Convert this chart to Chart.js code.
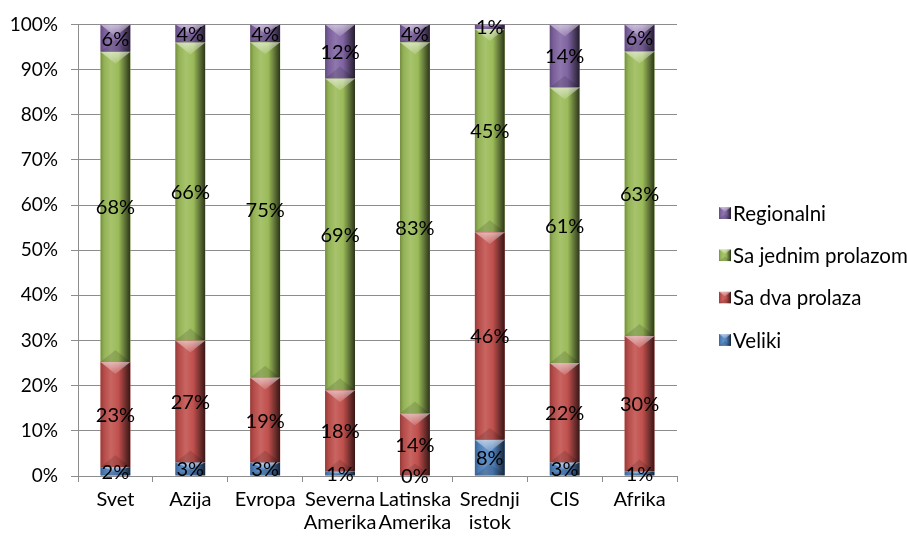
<!DOCTYPE html>
<html>
<head>
<meta charset="utf-8">
<style>
  html, body { margin: 0; padding: 0; background: #ffffff; }
  #wrap { width: 907px; height: 537px; }
</style>
<script src="https://cdn.jsdelivr.net/npm/chart.js@4.4.0/dist/chart.umd.min.js"></script>
</head>
<body>
<div id="wrap"><canvas id="c" width="907" height="537"></canvas></div>
<script>
// Regions and the share (%) of each aircraft type
const categories = ['Svet', 'Azija', 'Evropa', ['Severna', 'Amerika'], ['Latinska', 'Amerika'], ['Srednji', 'istok'], 'CIS', 'Afrika'];
const seriesNames = ['Veliki', 'Sa dva prolaza', 'Sa jednim prolazom', 'Regionalni'];
const veliki     = [2, 3, 3, 1, 0, 8, 3, 1];
const saDva      = [23, 27, 19, 18, 14, 46, 22, 30];
const saJednim   = [68, 66, 75, 69, 83, 45, 61, 63];
const regionalni = [6, 4, 4, 12, 4, 1, 14, 6];
const yTicks = [0, 10, 20, 30, 40, 50, 60, 70, 80, 90, 100];

const seriesValues = [veliki, saDva, saJednim, regionalni];
const seriesColors = ['#4F81BD', '#C0504D', '#9BBB59', '#8064A2'];
const FONT = 'Lato, "Liberation Sans", sans-serif';
const TICK_SIZE = 19;
const TEXT_SIZE = 20;
const LEGEND_SIZE = 20.5;

// 100% stacking: every column is scaled to its own total
const totals = categories.map((_, i) => seriesValues.reduce((s, arr) => s + arr[i], 0));

function mix(hex, amount) {
  const n = parseInt(hex.slice(1), 16);
  let r = (n >> 16) & 255, g = (n >> 8) & 255, b = n & 255;
  const t = amount > 0 ? 255 : 0, a = Math.abs(amount);
  r = Math.round(r + (t - r) * a);
  g = Math.round(g + (t - g) * a);
  b = Math.round(b + (t - b) * a);
  return `rgb(${r},${g},${b})`;
}

// Beveled column fill: side gradient plus light/dark end facets
function paintBevel(ctx, color, left, top, w, h) {
  if (h < 0.5) return;
  const grad = ctx.createLinearGradient(left, 0, left + w, 0);
  grad.addColorStop(0, mix(color, -0.25));
  grad.addColorStop(0.12, mix(color, -0.05));
  grad.addColorStop(0.35, mix(color, 0.12));
  grad.addColorStop(0.6, color);
  grad.addColorStop(0.85, mix(color, -0.45));
  grad.addColorStop(1, mix(color, -0.72));
  ctx.save();
  ctx.beginPath();
  ctx.rect(left, top, w, h);
  ctx.clip();
  ctx.fillStyle = grad;
  ctx.fillRect(left, top, w, h);
  const d = Math.min(w * 0.4, h / 2);
  const cx = left + w / 2;
  // top facet
  ctx.beginPath();
  ctx.moveTo(left, top);
  ctx.lineTo(left + w, top);
  ctx.lineTo(cx, top + d);
  ctx.closePath();
  const tg = ctx.createLinearGradient(0, top, 0, top + d);
  tg.addColorStop(0, 'rgba(255,255,255,0.55)');
  tg.addColorStop(1, 'rgba(255,255,255,0.15)');
  ctx.fillStyle = tg;
  ctx.fill();
  // bottom facet
  ctx.beginPath();
  ctx.moveTo(left, top + h);
  ctx.lineTo(left + w, top + h);
  ctx.lineTo(cx, top + h - d);
  ctx.closePath();
  ctx.fillStyle = 'rgba(0,0,0,0.13)';
  ctx.fill();
  ctx.restore();
}

const bevelAndLabels = {
  id: 'bevelAndLabels',
  afterDatasetsDraw(chart) {
    const ctx = chart.ctx;
    chart.data.datasets.forEach((ds, di) => {
      const meta = chart.getDatasetMeta(di);
      meta.data.forEach(el => {
        const top = Math.min(el.y, el.base);
        const h = Math.abs(el.base - el.y);
        paintBevel(ctx, seriesColors[di], el.x - el.width / 2, top, el.width, h);
      });
    });
    ctx.save();
    ctx.font = `${TEXT_SIZE}px ${FONT}`;
    ctx.fillStyle = '#000000';
    ctx.textAlign = 'center';
    ctx.textBaseline = 'middle';
    chart.data.datasets.forEach((ds, di) => {
      const meta = chart.getDatasetMeta(di);
      meta.data.forEach((el, i) => {
        const cy = (el.y + el.base) / 2;
        ctx.fillText(seriesValues[di][i] + '%', el.x, cy + 1);
      });
    });
    ctx.restore();
  },
  afterDraw(chart) {
    // legend, top entry = top stack segment
    const ctx = chart.ctx;
    ctx.save();
    ctx.font = `${LEGEND_SIZE}px ${FONT}`;
    ctx.textAlign = 'left';
    ctx.textBaseline = 'middle';
    const x0 = 719, y0 = 213, step = 42.3;
    const order = chart.data.datasets.map((d, i) => i).reverse();
    order.forEach((di, k) => {
      const y = y0 + k * step;
      paintBevel(ctx, seriesColors[di], x0, y - 6, 12, 12);
      ctx.fillStyle = '#000000';
      ctx.fillText(chart.data.datasets[di].label, x0 + 14, y + 1);
    });
    ctx.restore();
  }
};

const datasets = seriesNames.map((name, si) => ({
  label: name,
  data: seriesValues[si].map((v, i) => v / totals[i] * 100),
  backgroundColor: seriesColors[si],
  borderWidth: 0,
  categoryPercentage: 1,
  barPercentage: 0.4
}));

new Chart(document.getElementById('c'), {
  type: 'bar',
  data: { labels: categories, datasets },
  options: {
    responsive: false,
    animation: false,
    layout: { padding: { top: 24, right: 230, left: 0, bottom: 0 } },
    plugins: {
      legend: { display: false },
      tooltip: { enabled: false }
    },
    scales: {
      x: {
        stacked: true,
        offset: true,
        grid: { display: true, drawOnChartArea: false, offset: true, color: '#8c8c8c', tickLength: 6 },
        border: { display: true, color: '#8c8c8c' },
        ticks: {
          color: '#000000',
          font: { family: FONT, size: TEXT_SIZE, lineHeight: 1.15 },
          padding: 6,
          maxRotation: 0,
          autoSkip: false
        },
        afterFit(scale) { scale.height = 61; }
      },
      y: {
        stacked: true,
        min: 0,
        max: 100,
        afterBuildTicks(scale) { scale.ticks = yTicks.map(v => ({ value: v })); },
        grid: { color: '#8c8c8c', tickLength: 7 },
        border: { display: true, color: '#8c8c8c' },
        ticks: {
          color: '#000000',
          font: { family: FONT, size: TICK_SIZE },
          padding: 13,
          callback: v => v + '%'
        },
        afterFit(scale) { scale.width = 78; }
      }
    }
  },
  plugins: [bevelAndLabels]
});
</script>
</body>
</html>
